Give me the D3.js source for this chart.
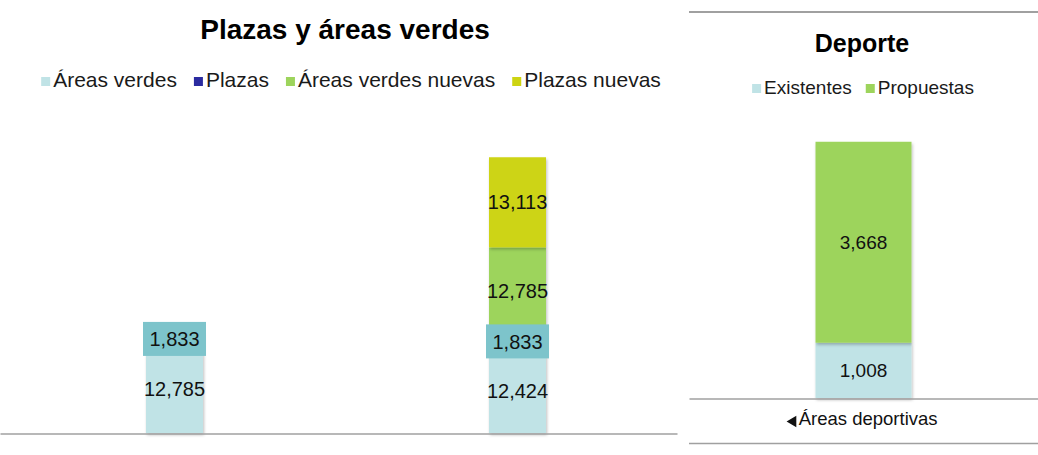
<!DOCTYPE html>
<html>
<head>
<meta charset="utf-8">
<script src="https://cdn.jsdelivr.net/npm/d3@7"></script>
<style>
  body { margin: 0; background: #fff; }
  svg { font-family: "Liberation Sans", Arial, sans-serif; }
</style>
</head>
<body>
<div id="chart"></div>
<script>
// Data - Plazas y áreas verdes
const catsLeft = ["Actual", "Propuesta"];
const seriesLeft = ["Áreas verdes", "Plazas", "Áreas verdes nuevas", "Plazas nuevas"];
const areasVerdes = [12785, 12424];
const plazas = [1833, 1833];
const areasVerdesNuevas = [0, 12785];
const plazasNuevas = [0, 13113];
const colorsLeft = ["#c0e3e6", "#2b2ba0", "#9dd45c", "#cdd412"];

// Data - Deporte
const catsRight = ["Áreas deportivas"];
const seriesRight = ["Existentes", "Propuestas"];
const existentes = [1008];
const propuestas = [3668];
const colorsRight = ["#c0e3e6", "#9dd45c"];

const W = 1038, H = 455;
const fmt = d3.format(",");

var svg = d3.select("#chart").append("svg")
    .attr("width", W)
    .attr("height", H);

// soft shadow like the original
var defs = svg.append("defs");
defs.append("filter").attr("id", "shadow")
    .attr("x", "-10%").attr("y", "-10%").attr("width", "130%").attr("height", "130%")
  .append("feDropShadow")
    .attr("dx", 1).attr("dy", 2).attr("stdDeviation", 1.5)
    .attr("flood-color", "#000").attr("flood-opacity", 0.25);

// legend helper
function legend(g, names, colors, cx, y, size, gap) {
  const items = g.selectAll("g").data(names).enter().append("g");
  items.append("rect")
    .attr("width", 9).attr("height", 9)
    .attr("y", -10)
    .attr("fill", (d, i) => colors[i]);
  items.append("text")
    .attr("x", 12)
    .attr("font-size", size)
    .attr("fill", "#1a1a1a")
    .text(d => d);
  let widths = [];
  items.each(function() { widths.push(this.getBBox().width); });
  const total = d3.sum(widths) + gap * (names.length - 1);
  let x = cx - total / 2;
  items.attr("transform", (d, i) => {
    const t = `translate(${x},${y})`;
    x += widths[i] + gap;
    return t;
  });
}

// ---------- Left chart ----------
const left = svg.append("g");
const tableLeft = catsLeft.map((c, i) => ({
  cat: c,
  "Áreas verdes": areasVerdes[i],
  "Plazas": plazas[i],
  "Áreas verdes nuevas": areasVerdesNuevas[i],
  "Plazas nuevas": plazasNuevas[i]
}));
const stackLeft = d3.stack().keys(seriesLeft)(tableLeft);

const xL = d3.scaleBand().domain(catsLeft).range([3, 689]);
const yL = d3.scaleLinear().domain([0, 45000]).range([433, 124]);
const barWL = 57;

left.append("text")
    .attr("x", 345).attr("y", 39)
    .attr("text-anchor", "middle")
    .attr("font-size", 28).attr("font-weight", "bold")
    .text("Plazas y áreas verdes");

legend(left.append("g"), seriesLeft, colorsLeft, 351, 87, 21, 17);

const layersL = left.selectAll(".layer").data(stackLeft).enter().append("g")
    .attr("fill", (d, i) => colorsLeft[i]);

layersL.selectAll("rect")
  .data(d => d.filter(p => p[1] - p[0] > 0))
  .enter().append("rect")
    .attr("x", p => xL(p.data.cat) + xL.bandwidth() / 2 - barWL / 2)
    .attr("width", barWL)
    .attr("y", p => yL(p[1]))
    .attr("height", p => yL(p[0]) - yL(p[1]))
    .attr("filter", "url(#shadow)");

// labels
stackLeft.forEach((layer, si) => {
  layer.filter(p => p[1] - p[0] > 0).forEach(p => {
    const cx = xL(p.data.cat) + xL.bandwidth() / 2;
    const cy = (yL(p[0]) + yL(p[1])) / 2;
    if (seriesLeft[si] === "Plazas") {
      left.append("rect")
        .attr("x", cx - 31.5).attr("y", cy - 17)
        .attr("width", 63).attr("height", 34)
        .attr("fill", "#7dc4cb");
    }
    left.append("text")
      .attr("x", cx).attr("y", cy)
      .attr("dy", "0.36em")
      .attr("text-anchor", "middle")
      .attr("font-size", 20)
      .attr("fill", "#111")
      .text(fmt(p.data[seriesLeft[si]]));
  });
});

const axL = left.append("g")
    .attr("transform", "translate(0,433.5)")
    .call(d3.axisBottom(xL.copy().range([0, 677])).tickSize(0).tickFormat(""));
axL.select(".domain").attr("stroke", "#a0a0a0").attr("stroke-width", 1.5);

// ---------- Right chart ----------
const right = svg.append("g");
const tableRight = catsRight.map((c, i) => ({
  cat: c, "Existentes": existentes[i], "Propuestas": propuestas[i]
}));
const stackRight = d3.stack().keys(seriesRight)(tableRight);

const xR = d3.scaleBand().domain(catsRight).range([689, 1038]);
const yR = d3.scaleLinear().domain([0, 5000]).range([398, 124]);
const barWR = 96;

right.append("line")
    .attr("x1", 689).attr("x2", 1038).attr("y1", 12).attr("y2", 12)
    .attr("stroke", "#a0a0a0").attr("stroke-width", 2);

right.append("text")
    .attr("x", 862).attr("y", 52)
    .attr("text-anchor", "middle")
    .attr("font-size", 25).attr("font-weight", "bold")
    .text("Deporte");

legend(right.append("g"), seriesRight, colorsRight, 863, 94, 19, 14);

const layersR = right.selectAll(".layer").data(stackRight).enter().append("g")
    .attr("fill", (d, i) => colorsRight[i]);

layersR.selectAll("rect")
  .data(d => d)
  .enter().append("rect")
    .attr("x", p => xR(p.data.cat) + xR.bandwidth() / 2 - barWR / 2)
    .attr("width", barWR)
    .attr("y", p => yR(p[1]))
    .attr("height", p => yR(p[0]) - yR(p[1]))
    .attr("filter", "url(#shadow)");

stackRight.forEach((layer, si) => {
  layer.forEach(p => {
    right.append("text")
      .attr("x", xR(p.data.cat) + xR.bandwidth() / 2)
      .attr("y", (yR(p[0]) + yR(p[1])) / 2)
      .attr("dy", "0.36em")
      .attr("text-anchor", "middle")
      .attr("font-size", 19)
      .attr("fill", "#111")
      .text(fmt(p.data[seriesRight[si]]));
  });
});

const axR = right.append("g")
    .attr("transform", "translate(0,398.5)")
    .call(d3.axisBottom(xR).tickSize(0).tickPadding(10));
axR.select(".domain").attr("stroke", "#a0a0a0").attr("stroke-width", 1.5);
axR.selectAll(".tick text")
    .attr("font-size", 18.5)
    .attr("font-family", "Liberation Sans, Arial, sans-serif")
    .attr("fill", "#111")
    .attr("dy", "0.9em")
    .attr("dx", "0.25em");
// small triangle before the category label
axR.selectAll(".tick").each(function() {
  const t = d3.select(this).select("text");
  const w = t.node().getComputedTextLength();
  d3.select(this).append("path")
    .attr("d", d3.symbol().type(d3.symbolTriangle).size(55))
    .attr("transform", `translate(${-w / 2 - 1},23) rotate(-90)`)
    .attr("fill", "#111");
});

right.append("line")
    .attr("x1", 689).attr("x2", 1038).attr("y1", 443.5).attr("y2", 443.5)
    .attr("stroke", "#a0a0a0").attr("stroke-width", 1.5);
</script>
</body>
</html>
